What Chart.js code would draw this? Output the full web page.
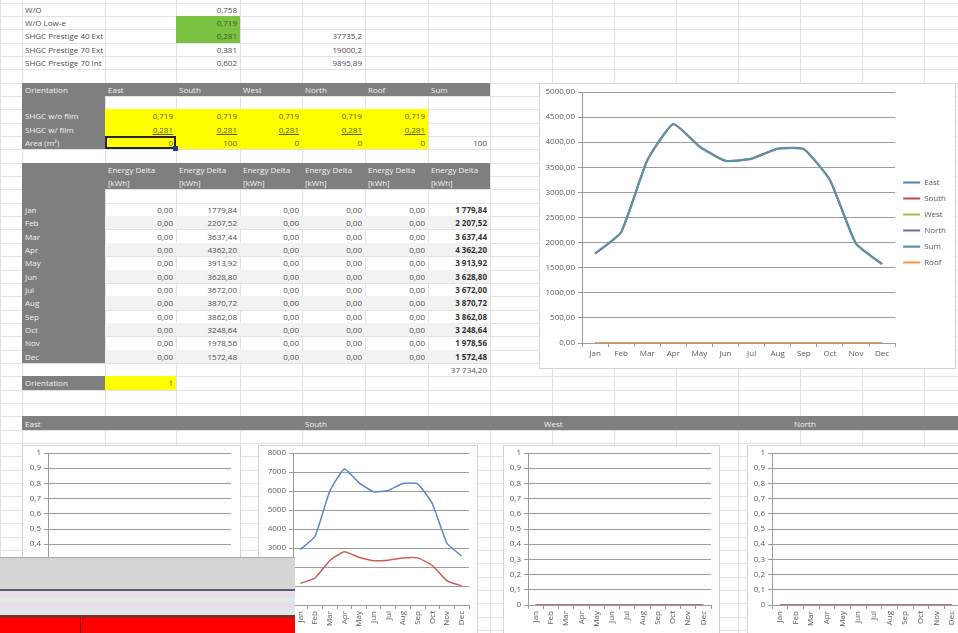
<!DOCTYPE html>
<html>
<head>
<meta charset="utf-8">
<script src="https://cdn.jsdelivr.net/npm/chart.js@4.4.0/dist/chart.umd.min.js"></script>
<style>
  body { margin: 0; background: #fff; font-family: "Open Sans", "Liberation Sans", sans-serif; }
  #sheet { position: absolute; left: 0; top: 0; width: 958px; height: 633px; overflow: hidden; background: #fff; }
  .gl { position: absolute; background: #e2e2e2; }
  .c { position: absolute; box-sizing: border-box; padding: 0 3px; font-size: 8px; color: #4d4d4d;
       white-space: nowrap; overflow: hidden; display: flex; align-items: center; }
  .r { justify-content: flex-end; }
  .dark { background: #7f7f7f; color: #f2f2f2; }
  .yel { background: #ffff00; color: #5a5a20; }
  .grn { background: #7cc242; color: #3d5a20; }
  .b { font-weight: bold; color: #333; }
  .box { position: absolute; background: #fff; border: 1px solid #d4d4d4; box-sizing: border-box; }
  .box canvas { position: absolute; left: -1px; top: -1px; }
  #overlay { position: absolute; left: 0; top: 557px; width: 295px; height: 76px; z-index: 20; }
  #overlay div { position: absolute; left: 0; width: 295px; }
</style>
</head>
<body>
<div id="sheet"></div>
<script>
// --- 데이터 ---
const months = ['Jan', 'Feb', 'Mar', 'Apr', 'May', 'Jun', 'Jul', 'Aug', 'Sep', 'Oct', 'Nov', 'Dec'];
const orientations = ['East', 'South', 'West', 'North', 'Roof', 'Sum'];

const glassNames = ['W/O', 'W/O Low-e', 'SHGC Prestige 40 Ext', 'SHGC Prestige 70 Ext', 'SHGC Prestige 70 Int'];
const glassShgc = ['0,758', '0,719', '0,281', '0,381', '0,602'];
const glassTotals = ['', '', '37735,2', '19000,2', '9895,89'];

const shgcWithout = [0.719, 0.719, 0.719, 0.719, 0.719];
const shgcWith = [0.281, 0.281, 0.281, 0.281, 0.281];
const areas = [0, 100, 0, 0, 0];
const orientationValue = 1;

// Energy Delta [kWh] 방위별
const eastDelta = [0, 0, 0, 0, 0, 0, 0, 0, 0, 0, 0, 0];
const southDelta = [1779.84, 2207.52, 3637.44, 4362.20, 3913.92, 3628.80, 3672.00, 3870.72, 3862.08, 3248.64, 1978.56, 1572.48];
const westDelta = [0, 0, 0, 0, 0, 0, 0, 0, 0, 0, 0, 0];
const northDelta = [0, 0, 0, 0, 0, 0, 0, 0, 0, 0, 0, 0];
const roofDelta = [0, 0, 0, 0, 0, 0, 0, 0, 0, 0, 0, 0];
const sumDelta = [1779.84, 2207.52, 3637.44, 4362.20, 3913.92, 3628.80, 3672.00, 3870.72, 3862.08, 3248.64, 1978.56, 1572.48];

// 남향 필름 전/후 에너지
const southWithoutFilm = [2920, 3620, 5970, 7160, 6430, 5960, 6030, 6400, 6380, 5330, 3250, 2580];
const southWithFilm = [1140, 1420, 2330, 2800, 2510, 2330, 2360, 2480, 2480, 2080, 1270, 1010];
const zeros = [0, 0, 0, 0, 0, 0, 0, 0, 0, 0, 0, 0];

const mainTicks = { min: 0, max: 5000, step: 500 };
const unitTicks = { min: 0, max: 1, step: 0.1 };
const southTicks = { min: 0, max: 8000, step: 1000 };

// --- 시트 레이아웃 ---
const colX = [0, 22, 105, 176, 240, 302, 365, 428, 490, 552, 614, 676, 738, 800, 862, 924, 986];
const ROW0 = 2.5, ROWH = 13.35;
const rowY = r => ROW0 + r * ROWH;
const sheet = document.getElementById('sheet');

function el(cls, x, y, w, h, text, extra) {
  const d = document.createElement('div');
  d.className = cls;
  d.style.left = x + 'px'; d.style.top = y + 'px';
  d.style.width = w + 'px'; d.style.height = h + 'px';
  if (text !== undefined) d.textContent = text;
  if (extra) Object.assign(d.style, extra);
  sheet.appendChild(d);
  return d;
}

// 셀: c0..c1 열, r0..r1 행
function cell(c0, c1, r0, r1, text, cls, extra) {
  const x = colX[c0], y = rowY(r0);
  return el('c ' + (cls || ''), x, y, colX[c1 + 1] - x, rowY(r1 + 1) - y, text, extra);
}

const fmt2 = v => v.toFixed(2).replace('.', ',');
function fmtSpace(v) {
  const [i, d] = v.toFixed(2).split('.');
  return i.replace(/\B(?=(\d{3})+(?!\d))/g, ' ') + ',' + d;
}
const fmt3 = v => v.toFixed(3).replace('.', ',');

// 격자선
for (let r = 0; r < 48; r++) el('gl', 0, Math.round(rowY(r)), 958, 1);
colX.forEach(x => el('gl', x, 0, 1, 633));

// 상단 유리 목록
glassNames.forEach((n, i) => {
  cell(1, 2, i, i, n);
  cell(3, 3, i, i, glassShgc[i], 'r' + (i === 1 || i === 2 ? ' grn' : ''));
  if (glassTotals[i]) cell(5, 5, i, i, glassTotals[i], 'r');
});

// 방위 입력 표
cell(1, 7, 6, 6, '', 'dark');
cell(1, 1, 6, 6, 'Orientation', 'dark');
orientations.forEach((o, i) => cell(2 + i, 2 + i, 6, 6, o, 'dark'));
cell(1, 1, 7, 10, '', 'dark');
cell(1, 1, 8, 8, 'SHGC w/o film', 'dark');
cell(1, 1, 9, 9, 'SHGC w/ film', 'dark');
cell(1, 1, 10, 10, 'Area (m²)', 'dark');
for (let i = 0; i < 5; i++) {
  cell(2 + i, 2 + i, 8, 8, fmt3(shgcWithout[i]), 'r yel');
  cell(2 + i, 2 + i, 9, 9, fmt3(shgcWith[i]), 'r yel', { textDecoration: 'underline' });
  cell(2 + i, 2 + i, 10, 10, String(areas[i]), 'r yel');
}
cell(7, 7, 10, 10, String(areas.reduce((s, a) => s + a, 0)), 'r');
// 선택된 셀
cell(2, 2, 10, 10, '', '', { border: '2px solid #262626', background: 'transparent' });
el('c', colX[3] - 3, rowY(11) - 3, 5, 5, '', { background: '#1f3f7f', padding: 0 });

// 에너지 표
cell(1, 7, 12, 13, '', 'dark');
cell(1, 1, 14, 26, '', 'dark');
for (let i = 0; i < 6; i++) {
  cell(2 + i, 2 + i, 12, 12, 'Energy Delta', 'dark');
  cell(2 + i, 2 + i, 13, 13, '[kWh]', 'dark');
}
const deltaCols = [eastDelta, southDelta, westDelta, northDelta, roofDelta];
months.forEach((m, i) => {
  const r = 15 + i;
  if (i % 2 === 1) cell(2, 7, r, r, '', '', { background: '#f2f2f2' });
  cell(1, 1, r, r, m, 'dark');
  deltaCols.forEach((col, j) => cell(2 + j, 2 + j, r, r, fmt2(col[i]), 'r'));
  cell(7, 7, r, r, fmtSpace(sumDelta[i]), 'r b');
});
cell(7, 7, 27, 27, fmtSpace(sumDelta.reduce((s, v) => s + v, 0)), 'r');
cell(1, 1, 28, 28, 'Orientation', 'dark');
cell(2, 2, 28, 28, String(orientationValue), 'r yel');

// 방위별 섹션 머리줄
cell(1, 15, 31, 31, '', 'dark');
el('c dark', 22, rowY(31), 80, ROWH, 'East', { background: 'transparent' });
el('c dark', 302, rowY(31), 80, ROWH, 'South', { background: 'transparent' });
el('c dark', 541, rowY(31), 80, ROWH, 'West', { background: 'transparent' });
el('c dark', 791, rowY(31), 80, ROWH, 'North', { background: 'transparent' });

// --- 차트 ---
function addBox(id, x, y, w, h) {
  const b = el('box', x, y, w, h);
  const cv = document.createElement('canvas');
  cv.id = id; cv.width = w; cv.height = h;
  b.appendChild(cv);
  return cv.getContext('2d');
}

const TXT = '#595959', GRID = '#9c9c9c';
const tickFont = { family: '"Open Sans", "Liberation Sans", sans-serif', size: 8 };

function yScale(t, fmt, width) {
  return {
    min: t.min, max: t.max,
    ticks: { stepSize: t.step, color: TXT, font: tickFont, padding: 3, callback: fmt },
    grid: { color: GRID, tickLength: 4, tickColor: GRID },
    border: { display: true, color: GRID },
    afterFit: s => { s.width = width; }
  };
}

function xScale(height, rotate) {
  return {
    offset: true,
    ticks: { color: TXT, font: tickFont, autoSkip: false, padding: 2,
             maxRotation: rotate ? 90 : 0, minRotation: rotate ? 90 : 0 },
    grid: { drawOnChartArea: false, offset: true, tickLength: 4, color: GRID },
    border: { display: true, color: GRID },
    afterFit: s => { s.height = height; }
  };
}

// order 값이 작을수록 위에 그려짐
const line = (label, data, color, w, order) => ({
  label, data, borderColor: color, backgroundColor: color, order: order || 0,
  borderWidth: w || 1.5, pointRadius: 0, tension: 0.15, fill: false
});

// 전체 (꺾은선)
new Chart(addBox('mainChart', 539, 83, 417, 286), {
  type: 'line',
  data: {
    labels: months,
    datasets: [
      line('East', eastDelta, '#4f81bd', 2, 5),
      line('South', southDelta, '#c0504d', 2, 4),
      line('West', westDelta, '#9bbb59', 2, 3),
      line('North', northDelta, '#8064a2', 2, 2),
      line('Sum', sumDelta, '#5a93a8', 2.2, 0),
      line('Roof', roofDelta, '#f79646', 2, 1)
    ]
  },
  options: {
    responsive: false, animation: false,
    layout: { padding: { top: 9, right: 0, left: 0, bottom: 0 } },
    plugins: {
      tooltip: { enabled: false },
      legend: {
        position: 'right',
        align: 'start',
        // 빈 제목의 여백으로 범례 항목의 세로 위치를 잡음
        title: { display: true, text: ' ', font: { size: 8 }, padding: { top: 69, bottom: 0 } },
        labels: { usePointStyle: true, pointStyle: 'line', pointStyleWidth: 17, boxHeight: 8,
                  padding: 8, color: TXT, font: tickFont,
                  sort: (a, b) => a.datasetIndex - b.datasetIndex }
      }
    },
    scales: {
      y: yScale(mainTicks, v => fmt2(v), 43),
      x: xScale(26, false)
    }
  }
});

const unitFmt = v => (v === 0 ? '0' : (Math.abs(v - 1) < 1e-9 ? '1' : v.toFixed(1).replace('.', ',')));

function smallChart(id, x, w, sets, t, fmt, yw, padRight) {
  new Chart(addBox(id, x, 445, w, 210), {
    type: 'line',
    data: { labels: months, datasets: sets },
    options: {
      responsive: false, animation: false,
      layout: { padding: { top: 8, right: padRight, left: 0, bottom: 0 } },
      plugins: { legend: { display: false }, tooltip: { enabled: false } },
      scales: { y: yScale(t, fmt, yw), x: xScale(50, true) }
    }
  });
}

smallChart('eastChart', 22, 219, [line('w/o', zeros, '#4f81bd', 1.5, 1), line('w/', eastDelta, '#d05a57', 1.5, 0)], unitTicks, unitFmt, 26, 10);
smallChart('southChart', 258, 220, [line('w/o', southWithoutFilm, '#5b86c0', 1.5, 1), line('w/', southWithFilm, '#d05a57', 1.5, 0)], southTicks, v => String(v), 35, 9);
smallChart('westChart', 503, 217, [line('w/o', zeros, '#4f81bd', 1.5, 1), line('w/', westDelta, '#d05a57', 1.5, 0)], unitTicks, unitFmt, 25, 9);
smallChart('northChart', 747, 222, [line('w/o', zeros, '#4f81bd', 1.5, 1), line('w/', northDelta, '#d05a57', 1.5, 0)], unitTicks, unitFmt, 25, 9);

// 앞에 겹친 창 조각
const ov = document.createElement('div');
ov.id = 'overlay';
[
  [0, 32, '#d6d6d6'], [32, 2, '#5c5c6c'], [34, 6, '#e7dce7'], [40, 6, '#dfe8e3'],
  [46, 6, '#e7dce7'], [52, 6, '#dce8e5'], [58, 3, '#8a2a2a'], [61, 15, '#ff0000']
].forEach(([t, h, c]) => {
  const d = document.createElement('div');
  d.style.top = t + 'px'; d.style.height = h + 'px'; d.style.background = c;
  ov.appendChild(d);
});
const top1 = document.createElement('div');
top1.style.cssText = 'top:0;height:1px;background:#a8a8a8';
ov.appendChild(top1);
const vl = document.createElement('div');
vl.style.cssText = 'top:61px;height:15px;left:80px;width:1px;background:#700000';
ov.appendChild(vl);
sheet.appendChild(ov);
</script>
</body>
</html>
